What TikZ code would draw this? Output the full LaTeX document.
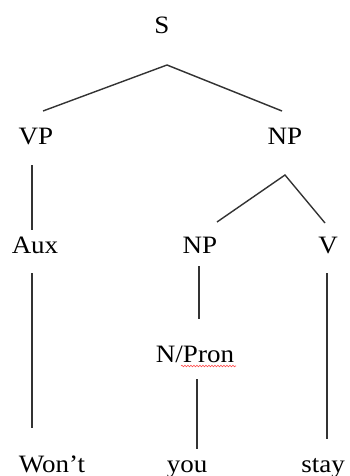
\documentclass[tikz,border=0pt]{standalone}
\usepackage{fontspec}
\setmainfont{Liberation Serif}
\usetikzlibrary{decorations.pathmorphing}
\begin{document}
\begin{tikzpicture}[x=1pt,y=-1pt,
  lbl/.style={anchor=base,inner sep=0pt,text=black,font=\fontsize{25}{30}\selectfont,xscale=1.08,transform shape},
  edge/.style={draw=black!80,line width=1.4pt}]
\useasboundingbox[fill=white] (0,0) rectangle (349,476);
% labels
\node[lbl] (S) at (162,34) {S};
\node[lbl] (VP) at (36,144) {VP};
\node[lbl] (NP1) at (285,144) {NP};
\node[lbl] (Aux) at (35,253) {Aux};
\node[lbl] (NP2) at (200,253) {NP};
\node[lbl] (V) at (328,253) {V};
\node[lbl] (NPron) at (195,362) {N/Pron};
\node[lbl] (Wont) at (52,472) {Won't};
\node[lbl] (you) at (187,472) {you};
\node[lbl] (stay) at (323,472) {stay};
% connector end points
\coordinate (S-b) at (167,65);
\coordinate (VP-t) at (43,111);
\coordinate (NP1-t) at (282,111);
\coordinate (VP-b) at (32,165);
\coordinate (Aux-t) at (32,230);
\coordinate (NP1-b) at (285,175);
\coordinate (NP2-t) at (217,222);
\coordinate (V-t) at (325,223);
\coordinate (Aux-b) at (32,273);
\coordinate (Wont-t) at (32,428);
\coordinate (NP2-b) at (199,266);
\coordinate (NPron-t) at (199,319);
\coordinate (NPron-b) at (197,379);
\coordinate (you-t) at (197,449);
\coordinate (V-b) at (327,273);
\coordinate (stay-t) at (327,439);
% connectors
\draw[edge] (VP-t) -- (S-b) -- (NP1-t);
\draw[edge] (VP-b) -- (Aux-t);
\draw[edge] (NP2-t) -- (NP1-b) -- (V-t);
\draw[edge] (Aux-b) -- (Wont-t);
\draw[edge] (NP2-b) -- (NPron-t);
\draw[edge] (NPron-b) -- (you-t);
\draw[edge] (V-b) -- (stay-t);
% spell-check squiggle
\coordinate (sq-a) at (181,366);
\coordinate (sq-b) at (236,366);
\draw[red!70,line width=0.6pt,decorate,decoration={snake,amplitude=0.8pt,segment length=3pt}] (sq-a) -- (sq-b);
\end{tikzpicture}
\end{document}
